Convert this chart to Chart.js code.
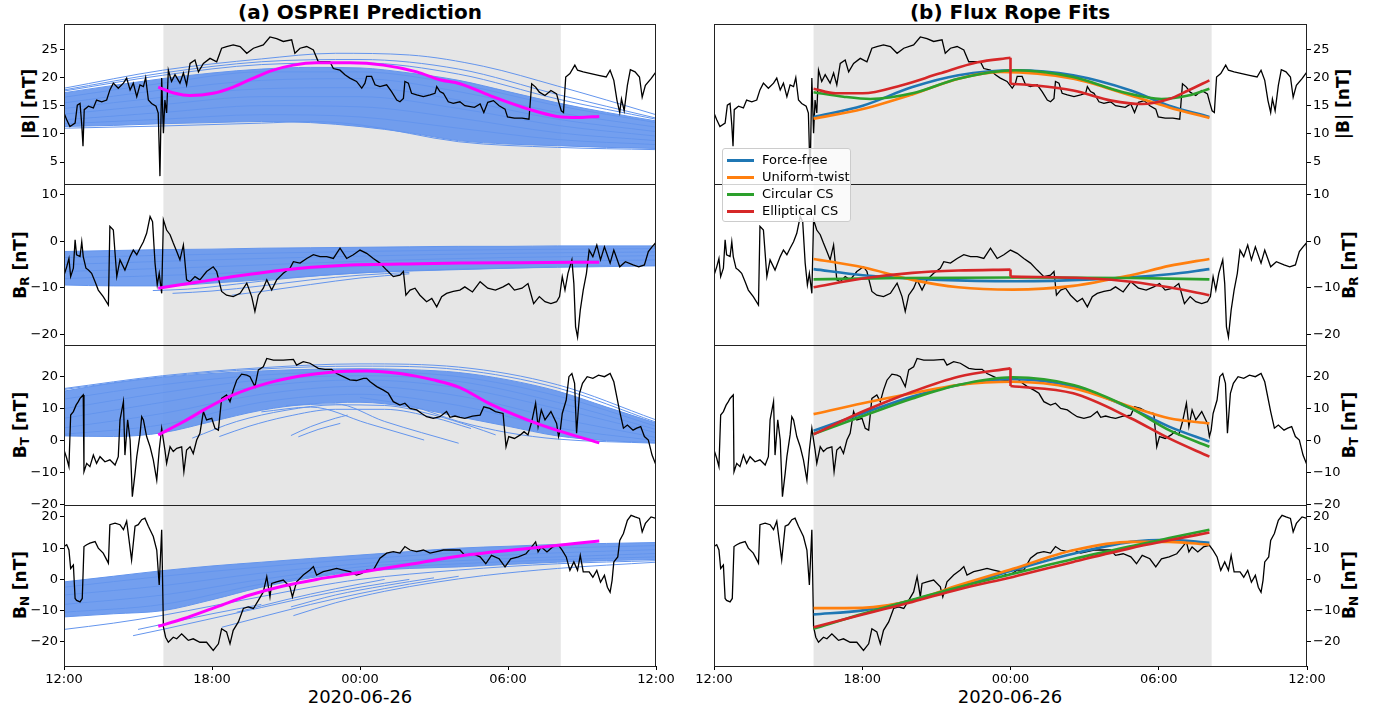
<!DOCTYPE html>
<html>
<head>
<meta charset="utf-8">
<script src="https://cdn.jsdelivr.net/npm/chart.js@4/dist/chart.umd.min.js"></script>
<style>
html,body{margin:0;padding:0;background:#fff;}
body{width:1385px;height:713px;position:relative;overflow:hidden;font-family:'DejaVu Sans',sans-serif;color:#000;}
canvas{position:absolute;}
.ttl{position:absolute;top:0px;font-weight:bold;font-size:20px;white-space:nowrap;transform:translateX(-50%);}
.xl{position:absolute;top:686px;font-size:18px;white-space:nowrap;transform:translateX(-50%);}
.yl{position:absolute;font-weight:bold;font-size:17px;white-space:nowrap;transform:translate(-50%,-50%) rotate(-90deg);}
.yl sub{font-size:12px;vertical-align:-3px;}
#legend{position:absolute;left:722px;top:148px;width:127px;height:72px;border:1px solid #ccc;border-radius:3px;background:rgba(255,255,255,0.8);z-index:10;}
.lrow{position:absolute;left:0;height:16px;font-size:13px;}
.lrow i{position:absolute;left:4px;top:7px;width:27px;height:3px;}
.lrow span{position:absolute;left:39px;top:0px;white-space:nowrap;}
</style>
</head>
<body>
<div class="ttl" style="left:360px;">(a) OSPREI Prediction</div>
<div class="ttl" style="left:1010px;">(b) Flux Rope Fits</div>
<div class="xl" style="left:360px;">2020-06-26</div>
<div class="xl" style="left:1010px;">2020-06-26</div>
<div class="yl" style="left:29px;top:104px;">|B| [nT]</div>
<div class="yl" style="left:21px;top:265px;">B<sub>R</sub> [nT]</div>
<div class="yl" style="left:21px;top:425px;">B<sub>T</sub> [nT]</div>
<div class="yl" style="left:21px;top:585px;">B<sub>N</sub> [nT]</div>
<div class="yl" style="left:1343px;top:104px;">|B| [nT]</div>
<div class="yl" style="left:1350px;top:265px;">B<sub>R</sub> [nT]</div>
<div class="yl" style="left:1350px;top:425px;">B<sub>T</sub> [nT]</div>
<div class="yl" style="left:1350px;top:585px;">B<sub>N</sub> [nT]</div>
<div id="legend"></div>
<script>
// ---------- axes ----------
const xTickValues = [0, 6, 12, 18, 24];
const xTickLabels = ['12:00', '18:00', '00:00', '06:00', '12:00'];
const shadeStart = 4.03, shadeEnd = 20.14;
const yRangeB = [1.1, 29.5], yRangeR = [-22.3, 12.3], yRangeT = [-20.1, 29.9], yRangeN = [-27.7, 23.8];
const yTicksB = [5, 10, 15, 20, 25], yTicksR = [-20, -10, 0, 10], yTicksT = [-20, -10, 0, 10, 20], yTicksN = [-20, -10, 0, 10, 20];

// ---------- observations (hours after 2020-06-25 12:00) ----------
const obsTimeB = [0,0.11,0.24,0.45,0.54,0.65,0.72,0.77,0.82,0.99,1.19,1.32,1.53,1.73,1.86,2.0,2.2,2.41,2.54,2.68,2.81,2.95,3.08,3.22,3.31,3.42,3.55,3.73,3.82,3.89,3.96,4.03,4.09,4.16,4.23,4.36,4.5,4.7,4.84,4.97,5.11,5.31,5.45,5.65,5.92,6.19,6.39,6.59,6.86,7.14,7.41,7.68,8.08,8.35,8.62,8.89,9.23,9.36,9.57,9.84,10.11,10.31,10.51,10.78,10.92,11.19,11.39,11.59,11.86,12.07,12.2,12.27,12.47,12.61,12.81,13.08,13.28,13.49,13.62,13.76,13.82,13.96,14.09,14.3,14.57,14.84,15.04,15.11,15.24,15.38,15.58,15.78,16.05,16.25,16.64,16.87,17.02,17.18,17.41,17.64,17.88,17.98,18.26,18.57,18.85,18.96,19.12,19.27,19.5,19.74,19.97,20.06,20.16,20.25,20.34,20.51,20.71,20.82,21.05,21.36,21.67,21.98,22.14,22.29,22.42,22.53,22.6,22.71,22.84,22.96,23.15,23.33,23.44,23.57,23.8,24.0];
const obsB = [13.7,12.5,11.3,11.9,15.1,15.4,11.6,7.8,14.3,14.9,14.6,16.0,15.7,16.0,17.8,19.0,18.1,19.0,19.9,17.8,19.0,16.6,18.7,18.4,20.0,16.0,15.4,14.9,13.7,2.5,19.9,10.1,16.0,13.7,21.3,19.3,20.5,19.0,20.8,18.7,22.5,23.1,21.0,22.5,23.4,22.8,25.2,25.5,25.8,25.5,24.3,25.2,25.8,27.2,26.9,26.4,26.7,24.3,25.2,25.5,24.9,22.8,22.8,22.8,21.6,21.3,20.5,19.9,19.3,18.1,19.0,20.2,20.2,18.7,18.4,18.7,17.5,16.0,15.7,16.3,19.3,19.0,17.2,16.9,16.6,16.9,17.2,18.4,17.5,17.2,15.7,15.4,15.7,15.0,14.7,15.3,13.8,15.6,15.9,15.0,14.4,13.0,12.8,12.8,12.6,18.9,18.3,17.4,16.8,17.7,17.1,15.6,14.1,13.8,20.1,20.7,22.2,21.3,21.0,20.7,20.4,20.1,21.3,19.5,15.9,13.8,16.2,14.1,18.6,21.4,21.0,20.1,16.5,18.6,19.8,21.0];

const obsTimeR = [0,0.11,0.2,0.27,0.38,0.45,0.51,0.65,0.72,0.78,0.89,0.99,1.12,1.26,1.39,1.59,1.8,1.86,2.0,2.14,2.27,2.47,2.68,2.81,2.95,3.08,3.22,3.35,3.49,3.59,3.69,3.78,3.86,3.96,4.03,4.16,4.3,4.43,4.57,4.7,4.84,4.97,5.11,5.31,5.51,5.78,6.05,6.19,6.39,6.59,6.86,7.14,7.41,7.61,7.74,7.88,8.08,8.22,8.42,8.62,8.89,9.16,9.3,9.57,9.84,10.11,10.38,10.65,10.92,11.19,11.46,11.73,12.0,12.27,12.54,12.81,13.08,13.35,13.62,13.76,13.86,14.03,14.23,14.43,14.7,14.91,15.11,15.31,15.51,15.78,16.05,16.25,16.56,16.87,17.18,17.49,17.8,18.03,18.26,18.57,18.81,19.04,19.27,19.5,19.74,19.97,20.09,20.2,20.31,20.43,20.59,20.67,20.74,20.82,20.93,21.05,21.18,21.29,21.44,21.6,21.75,21.91,22.14,22.29,22.53,22.76,23.07,23.3,23.53,23.69,23.84,23.97,24.0];
const obsR = [-7.3,-5.5,-3.7,-7.6,-5.8,0.3,-2.9,-3.3,-0.1,-3.3,-5.8,-6.2,-6.9,-8.7,-10.5,-11.9,-13.7,3.2,2.4,-7.6,-4.0,-6.2,-3.3,-1.9,-2.9,-1.5,-0.1,1.7,5.3,4.2,-4.7,-9.4,-6.9,-11.2,4.6,2.4,1.4,-0.4,-2.2,-4.0,-0.8,-8.3,-8.7,-7.6,-8.3,-6.5,-5.5,-6.5,-10.8,-11.6,-11.9,-11.2,-9.0,-11.9,-15.1,-11.6,-10.1,-8.3,-10.5,-8.3,-6.9,-5.8,-4.4,-4.7,-3.7,-2.9,-3.3,-3.3,-3.7,-1.5,-3.7,-2.9,-1.9,-2.6,-3.7,-4.7,-6.2,-7.6,-7.3,-6.5,-11.6,-10.5,-10.1,-11.6,-13.0,-12.3,-14.1,-11.9,-11.2,-10.8,-10.5,-9.8,-10.9,-8.7,-10.1,-10.5,-9.8,-9.1,-10.5,-10.1,-9.1,-13.4,-11.9,-13.0,-13.4,-13.0,-11.9,-7.6,-10.5,-6.9,-4.0,-9.1,-18.4,-20.6,-14.8,-10.5,-6.9,-1.9,-3.3,-0.8,-4.0,-1.2,-4.7,-1.9,-5.5,-4.4,-5.1,-5.5,-5.1,-2.2,-1.2,-0.4,-3.0];

const obsTimeT = [0,0.11,0.2,0.27,0.38,0.49,0.58,0.65,0.72,0.78,0.81,0.92,1.05,1.19,1.32,1.46,1.66,1.86,2.07,2.2,2.27,2.41,2.47,2.58,2.68,2.77,2.88,2.95,3.08,3.15,3.22,3.35,3.49,3.62,3.76,3.86,3.96,4.03,4.09,4.16,4.3,4.43,4.57,4.77,4.86,4.97,5.11,5.24,5.38,5.51,5.65,5.78,5.99,6.12,6.26,6.39,6.59,6.73,6.86,7.0,7.2,7.41,7.54,7.74,7.88,8.08,8.22,8.49,8.89,9.3,9.43,9.7,9.97,10.31,10.58,10.85,11.05,11.32,11.59,11.86,12.14,12.27,12.41,12.68,12.95,13.15,13.35,13.62,13.82,14.03,14.3,14.5,14.7,14.97,15.24,15.51,15.65,15.85,16.05,16.25,16.56,16.87,17.02,17.26,17.49,17.8,17.92,18.03,18.26,18.5,18.65,18.81,18.96,19.12,19.22,19.35,19.5,19.74,19.97,20.05,20.12,20.2,20.36,20.47,20.59,20.7,20.78,20.9,21.02,21.21,21.44,21.67,21.91,22.14,22.29,22.53,22.68,22.84,23.07,23.22,23.38,23.53,23.69,23.84,24.0];
const obsT = [-2.9,-5.5,-8.1,8.0,9.1,11.1,12.2,13.2,13.8,14.3,-9.7,-7.1,-8.1,-4.5,-7.1,-5.0,-6.6,-6.0,-7.6,-5.0,6.5,12.2,-4.5,6.5,0.2,-17.5,-10.2,-5.0,1.8,7.5,6.5,1.3,-1.9,-6.0,-12.3,-2.9,3.9,0.2,-2.9,-7.1,-1.9,-3.4,-2.4,-1.9,-9.7,-2.9,-1.9,-4.0,0.2,2.3,9.1,6.5,7.0,3.9,3.3,13.2,14.3,12.2,15.8,18.9,20.8,20.5,20.0,16.9,22.1,23.1,25.7,25.2,25.2,25.4,23.6,24.7,24.2,22.6,22.3,22.3,21.0,20.0,19.0,18.8,19.5,19.5,18.4,16.9,15.8,14.8,12.2,11.1,11.7,10.1,9.6,8.5,7.5,7.0,7.5,9.1,7.3,7.7,7.3,7.0,7.7,8.0,10.6,10.1,9.1,8.5,-1.9,1.3,0.7,1.8,2.8,1.8,5.9,11.7,4.4,9.6,6.5,9.1,5.4,1.3,3.3,8.5,12.7,20.0,21.0,17.9,2.3,14.8,17.9,20.0,19.5,20.5,20.0,21.0,18.4,9.1,3.9,4.9,3.3,3.9,4.4,1.3,0.2,-4.5,-7.6];

const obsTimeN = [0,0.11,0.2,0.27,0.38,0.45,0.51,0.65,0.74,0.81,0.92,1.05,1.26,1.39,1.59,1.8,1.86,2.07,2.27,2.41,2.54,2.74,2.88,3.01,3.15,3.28,3.42,3.62,3.76,3.86,3.96,4.03,4.12,4.23,4.43,4.57,4.77,4.91,5.04,5.24,5.51,5.78,6.05,6.26,6.39,6.59,6.73,6.86,7.07,7.27,7.47,7.68,7.88,8.08,8.22,8.35,8.42,8.62,8.89,9.16,9.26,9.43,9.7,9.97,10.11,10.24,10.51,10.78,11.05,11.32,11.59,11.86,12.07,12.27,12.54,12.81,13.08,13.35,13.62,13.82,14.03,14.3,14.57,14.84,15.11,15.38,15.65,16.05,16.25,16.56,16.87,17.1,17.33,17.64,17.88,18.11,18.42,18.73,18.96,19.12,19.22,19.35,19.58,19.81,20.05,20.2,20.36,20.51,20.67,20.82,20.93,21.05,21.29,21.44,21.6,21.75,21.91,22.03,22.14,22.22,22.29,22.45,22.53,22.68,22.84,22.99,23.15,23.33,23.44,23.57,23.8,24.0];
const obsN = [10.5,11.1,9.4,3.5,4.6,-6.1,-6.7,-7.2,-6.1,10.5,11.1,11.6,12.1,10.0,8.4,5.2,17.5,18.0,17.5,15.9,18.6,6.2,17.0,17.5,19.1,19.6,17.0,13.7,9.4,-1.8,15.9,-15.2,-18.5,-20.1,-18.5,-19.0,-17.4,-18.5,-19.5,-19.0,-20.1,-20.1,-22.7,-20.6,-15.8,-16.8,-20.6,-16.3,-13.6,-9.3,-8.8,-9.3,-6.7,-4.0,0.9,-5.6,-1.3,-0.8,-0.2,-2.4,-5.6,-0.8,1.4,3.0,4.1,1.4,2.5,3.0,3.5,3.0,2.5,1.4,1.9,3.0,3.0,6.8,8.4,8.9,8.4,10.5,9.4,8.9,9.4,8.4,8.9,9.4,9.4,9.4,7.7,8.2,7.2,5.0,7.7,6.6,4.0,6.6,7.2,8.2,10.4,12.0,8.8,10.4,8.8,10.4,10.9,9.3,7.2,2.9,5.6,2.9,7.7,2.4,2.4,0.7,2.9,-0.9,1.3,-2.5,-4.1,-0.3,5.6,7.2,12.5,14.7,18.9,20.5,20.0,19.5,15.2,17.9,20.0,19.5];

// ---------- OSPREI prediction (magenta) ----------
const magB = [[3.82,18.3],[4.5,17.2],[5.1,16.8],[6.05,17.2],[6.86,18.3],[7.68,19.9],[8.49,21.3],[9.3,22.2],[10.24,22.6],[11.59,22.6],[12.95,22.2],[14.3,21.0],[15.24,19.6],[16.05,18.9],[17.27,16.8],[18.9,14.3],[19.98,13.1],[20.9,12.9],[21.7,13.1]];
const magR = [[3.82,-10.1],[5.51,-8.7],[7.54,-7.1],[9.57,-5.8],[11.59,-5.1],[13.62,-4.9],[16.05,-4.7],[18.5,-4.6],[21.7,-4.5]];
const magT = [[3.82,1.8],[4.84,5.9],[5.78,10.1],[6.86,14.3],[8.22,17.9],[9.57,20.2],[10.92,21.5],[12.27,21.8],[13.62,21.0],[14.97,19.0],[16.05,16.6],[17.27,11.5],[19.3,5.0],[21.7,-0.7]];
const magN = [[3.82,-15.0],[4.84,-12.6],[6.19,-8.8],[7.54,-5.0],[8.89,-2.1],[10.24,0.0],[11.59,1.7],[12.95,3.5],[14.3,5.2],[16.05,7.5],[19.3,10.3],[21.7,12.3]];

// ---------- OSPREI ensemble (dense band edges + individual members) ----------
const ensTime = [0,2,4,6,8,10,12,14,16,18,20,22,24];
const ensBTop = [17.3,18.6,19.8,20.8,21.5,21.8,21.7,20.8,19.5,17.5,15.5,13.8,12.3];
const ensBBot = [11.3,11.5,11.8,12.0,12.2,12.0,11.3,10.2,8.8,8.2,7.9,7.6,7.4];
const ensRTop = [-2.2,-2.0,-1.8,-1.7,-1.5,-1.4,-1.3,-1.2,-1.1,-1.1,-1.0,-1.0,-1.0];
const ensRBot = [-9.4,-9.6,-9.6,-9.0,-8.3,-7.5,-6.8,-6.4,-6.1,-5.8,-5.5,-5.3,-5.2];
const ensTTop = [15.5,18.0,19.8,21.0,21.8,22.3,22.5,22.2,21.3,19.0,15.5,10.5,5.5];
const ensTBot = [1.5,1.3,2.5,6.0,9.5,11.5,12.0,10.5,7.5,4.5,1.5,0.0,-0.6];
const ensNTop = [-0.8,1.0,2.8,4.3,5.5,6.7,7.8,8.9,10.0,10.6,11.2,11.5,11.8];
const ensNBot = [-12.0,-11.0,-10.0,-6.5,-2.5,0.5,2.5,3.5,4.0,4.8,5.5,6.0,6.4];

const ensBLines = [
 [[0,18.1],[4,21.3],[8,23.3],[11,24.3],[14,24.0],[17,22.0],[20,18.5],[22,16.0],[24,13.4]],
 [[0,17.8],[4,20.8],[8,22.8],[12,23.2],[16,21.5],[20,17.0],[24,12.8]],
 [[0,17.6],[4,20.4],[8,22.3],[12,22.6],[16,20.6],[20,16.2],[24,12.6]],
 [[0,16.5],[4,19.0],[8,21.0],[12,21.0],[16,18.8],[20,15.0],[24,12.0]],
 [[0,15.5],[4,17.8],[8,19.5],[12,19.8],[16,17.5],[20,13.8],[24,11.2]],
 [[0,14.5],[4,16.5],[8,18.0],[12,18.2],[16,16.0],[20,12.6],[24,10.4]],
 [[0,13.5],[4,15.2],[8,16.6],[12,16.6],[16,14.5],[20,11.5],[24,9.6]],
 [[0,12.5],[4,13.8],[8,15.0],[12,14.8],[16,12.8],[20,10.2],[24,8.8]],
 [[0,11.8],[4,12.6],[8,13.4],[12,13.0],[16,11.0],[20,9.0],[24,8.1]],
 [[0,11.0],[4,11.4],[8,11.9],[10,12.2],[12,11.6],[16,8.6],[20,7.6],[24,7.2]]
];
const ensRLines = [
 [[3.6,-10.6],[5,-10.3],[7,-9.2],[9,-8.0],[12,-6.8],[16,-6.0],[20,-5.6],[24,-5.3]],
 [[4.4,-11.2],[6,-10.7],[8,-9.6],[10,-8.3],[12,-7.3],[14,-6.7]],
 [[6.8,-11.6],[8,-10.8],[10,-9.3],[12,-7.9],[14,-7.0]],
 [[0,-3.5],[6,-2.8],[12,-2.2],[18,-1.8],[24,-1.6]],
 [[0,-5.0],[6,-4.0],[12,-3.2],[18,-2.6],[24,-2.3]],
 [[0,-6.5],[6,-5.5],[12,-4.3],[18,-3.5],[24,-3.1]],
 [[0,-8.0],[6,-7.0],[12,-5.4],[18,-4.5],[24,-4.0]]
];
const ensTLines = [
 [[0,16.3],[4,20.3],[8,22.8],[12,24.0],[16,23.0],[20,17.5],[24,6.5]],
 [[0,16.0],[4,20.0],[8,22.4],[12,23.3],[16,22.2],[20,16.5],[24,5.8]],
 [[0,13.0],[4,17.5],[8,20.5],[12,21.5],[16,20.0],[20,14.0],[24,4.5]],
 [[0,10.0],[4,15.0],[8,19.0],[12,20.3],[16,18.5],[20,12.0],[24,3.5]],
 [[0,7.0],[4,12.0],[8,17.0],[12,19.0],[16,16.5],[20,10.0],[24,2.5]],
 [[0,4.0],[4,8.5],[8,14.5],[12,17.0],[16,14.0],[20,7.0],[24,1.0]],
 [[0,2.0],[4,5.0],[8,12.0],[12,14.5],[16,11.0],[20,4.0],[24,0.0]],
 [[5.2,0.8],[7,6.0],[9,9.5],[11,11.2],[13,11.0],[15,8.0],[16.5,4.5],[17.5,1.8]],
 [[6.3,1.3],[7.5,4.5],[9,7.5],[11,9.8],[13,9.8],[15,7.2],[16.5,3.8]],
 [[9.2,1.6],[10,4.4],[11,7.0],[11.5,8.0]],
 [[9.5,1.2],[10.3,3.5],[11.2,5.4]],
 [[8,9.0],[10,10.5],[12.3,5.4],[14.6,0.2]],
 [[9,11.0],[11,11.5],[13,6.0],[16,-0.8]],
 [[12,13.5],[14,11.0],[16,6.0],[18,2.5],[20,0.5],[24,-0.8]]
];
const ensNLines = [
 [[0,-16.0],[2,-14.0],[4,-11.5],[6,-8.5],[8,-5.5],[10,-2.5],[12,0.0],[16,3.0],[20,5.0],[24,6.0]],
 [[2.8,-18.0],[4,-16.0],[6,-12.5],[8,-9.0],[10,-5.5],[12,-2.5],[14,0.0]],
 [[3.0,-16.0],[4.5,-13.5],[6,-11.0],[8,-8.0]],
 [[6.4,-15.3],[8,-12.0],[10,-8.0],[12,-4.5],[14,-1.5],[16,1.0]],
 [[9.3,-11.6],[11,-7.5],[13,-3.8],[15,-1.0],[17,1.2],[20,3.5],[24,5.5]],
 [[9.2,-8.8],[11,-5.0],[13,-2.0],[15,0.5]],
 [[7.0,-10.5],[9,-6.5],[11,-3.0],[13,0.0]],
 [[0,-2.5],[4,1.0],[8,4.0],[12,6.5],[16,8.5],[20,10.0],[24,10.8]],
 [[0,-5.0],[4,-2.0],[8,2.0],[12,5.0],[16,7.0],[20,8.5],[24,9.5]],
 [[0,-8.0],[4,-5.0],[8,0.0],[12,4.0],[16,6.0],[20,7.2],[24,8.3]],
 [[0,-10.5],[4,-8.0],[8,-1.5],[12,3.0],[16,5.0],[20,6.3],[24,7.2]]
];

// ---------- flux rope fits ----------
const fitNames = ['Force-free', 'Uniform-twist', 'Circular CS', 'Elliptical CS'];
const fitColors = ['#1f77b4', '#ff7f0e', '#2ca02c', '#d62728'];
const ffB = [[4.03,13.0],[6.02,15.0],[8.03,18.3],[9.89,20.4],[12.22,21.3],[14.54,20.4],[16.87,17.7],[18.42,15.0],[20.05,13.0]];
const utB = [[4.03,12.7],[6.02,14.4],[8.03,17.0],[9.89,19.8],[11.6,21.0],[14.54,19.8],[16.87,16.8],[18.42,14.7],[20.05,12.8]];
const ccB = [[4.03,17.4],[5.24,16.6],[6.33,16.2],[8.03,17.2],[9.89,19.8],[12.22,21.3],[14.54,20.1],[16.56,17.4],[18.11,16.2],[19.19,16.8],[20.05,18.0]];
const ecB1 = [[4.03,18.0],[4.93,17.2],[6.02,17.2],[7.57,18.6],[9.12,20.7],[10.67,22.7],[12.0,23.5]];
const ecB2 = [[12.0,18.9],[12.99,18.6],[14.54,17.7],[16.09,15.9],[17.33,15.3],[18.42,16.2],[19.19,17.7],[20.05,19.5]];
const ffR = [[4.03,-6.0],[6.02,-7.3],[9.12,-8.3],[12.22,-8.6],[15.3,-8.2],[18.42,-7.1],[20.05,-6.0]];
const utR = [[4.03,-3.8],[6.02,-5.6],[8.03,-8.3],[9.89,-9.9],[12.1,-10.4],[14.54,-9.6],[16.87,-7.3],[18.42,-5.3],[20.05,-3.8]];
const ccR = [[4.03,-8.2],[7.57,-7.9],[12.22,-7.8],[16.87,-7.9],[20.05,-8.2]];
const ecR1 = [[4.03,-9.9],[6.02,-8.0],[8.03,-6.8],[9.89,-6.3],[12.0,-6.1]];
const ecR2 = [[12.0,-7.6],[15.3,-8.0],[16.87,-8.7],[18.42,-9.9],[20.05,-11.6]];
const ffT = [[4.03,3.1],[6.02,8.5],[8.03,13.8],[9.89,17.4],[12.1,19.2],[14.54,16.9],[16.87,10.1],[18.42,4.4],[20.05,-0.3]];
const utT = [[4.03,8.3],[6.02,11.7],[8.03,14.8],[9.89,17.4],[12.1,18.4],[14.54,16.4],[16.87,10.6],[18.42,7.0],[20.05,5.4]];
const ccT = [[4.03,2.1],[6.02,7.7],[8.03,13.2],[9.89,17.4],[12.1,19.8],[14.54,17.4],[16.87,10.1],[18.42,3.3],[20.05,-1.9]];
const ecT1 = [[4.03,2.0],[6.02,9.1],[8.03,15.3],[9.89,20.0],[12.0,22.6]];
const ecT2 = [[12.0,17.1],[14.54,14.8],[16.87,7.0],[18.42,0.7],[20.05,-5.0]];
const ffN = [[4.03,-11.2],[6.02,-9.9],[8.03,-6.7],[9.89,-2.5],[12.1,2.9],[14.54,8.2],[16.87,12.0],[18.42,12.7],[20.05,11.7]];
const utN = [[4.03,-9.2],[6.02,-9.1],[8.03,-6.7],[9.89,-1.9],[12.1,3.4],[14.54,9.3],[16.87,12.0],[18.42,12.0],[20.05,11.1]];
const ccN = [[4.03,-15.8],[6.02,-11.0],[8.03,-6.5],[9.89,-2.5],[12.1,1.8],[14.54,6.5],[16.87,10.6],[18.42,13.2],[20.05,15.9]];
const ecN1 = [[4.03,-15.3],[6.02,-11.2],[8.03,-7.2],[9.89,-3.2],[12.1,0.8],[14.54,5.6],[16.87,10.0],[18.42,12.5],[20.05,15.0]];
const ecN2 = [];

// ---------- assembly ----------
const ENS_BLUE = '#6495ed';
const pairs = a => a.map(p => ({x: p[0], y: p[1]}));
const zipTV = (t, v) => t.map((x, i) => ({x: x, y: v[i]}));

const panelTop = [24, 184, 345, 505], panelBot = [184, 345, 505, 666];
const yRanges = [yRangeB, yRangeR, yRangeT, yRangeN];
const yTickSets = [yTicksB, yTicksR, yTicksT, yTicksN];
const obsTimes = [obsTimeB, obsTimeR, obsTimeT, obsTimeN];
const obsVals = [obsB, obsR, obsT, obsN];
const mags = [magB, magR, magT, magN];
const ensTops = [ensBTop, ensRTop, ensTTop, ensNTop];
const ensBots = [ensBBot, ensRBot, ensTBot, ensNBot];
const ensLines = [ensBLines, ensRLines, ensTLines, ensNLines];
const fits = [[ffB, utB, ccB, ecB1, ecB2], [ffR, utR, ccR, ecR1, ecR2], [ffT, utT, ccT, ecT1, ecT2], [ffN, utN, ccN, ecN1, ecN2]];

Chart.defaults.font.family = "'DejaVu Sans', sans-serif";
Chart.defaults.font.size = 13;
Chart.defaults.color = '#000';

const shadePlugin = {
  id: 'shade',
  beforeDatasetsDraw(chart) {
    const {ctx, chartArea: a, scales: {x}} = chart;
    const x0 = x.getPixelForValue(shadeStart), x1 = x.getPixelForValue(shadeEnd);
    ctx.save();
    ctx.fillStyle = '#e6e6e6';
    ctx.fillRect(x0, a.top, x1 - x0, a.bottom - a.top);
    ctx.restore();
  }
};
const framePlugin = {
  id: 'frame',
  afterDatasetsDraw(chart) {
    const {ctx, chartArea: a} = chart;
    ctx.save();
    ctx.strokeStyle = '#222';
    ctx.lineWidth = 1;
    ctx.strokeRect(Math.round(a.left) + 0.5, Math.round(a.top) + 0.5, Math.round(a.right - a.left) - 1, Math.round(a.bottom - a.top));
    ctx.restore();
  }
};

function fmt(v) { return String(v).replace('-', '\u2212'); }

function makePanel(col, i, datasets) {
  const isBottom = i === 3;
  const cv = document.createElement('canvas');
  const left = col === 0 ? 0 : 690;
  const width = col === 0 ? 680 : 695;
  const top = panelTop[i] - 12;
  const height = isBottom ? (12 + panelBot[i] - panelTop[i] + 30 + 10) : (panelBot[i] - panelTop[i] + 24);
  cv.width = width; cv.height = height;
  cv.style.left = left + 'px'; cv.style.top = top + 'px';
  cv.style.width = width + 'px'; cv.style.height = height + 'px';
  document.body.appendChild(cv);
  new Chart(cv, {
    type: 'line',
    data: {datasets: datasets},
    options: {
      responsive: false, animation: false, events: [],
      layout: {autoPadding: false, padding: {left: col === 0 ? 0 : 24, right: col === 0 ? 24 : 0, top: 12, bottom: isBottom ? 10 : 12}},
      plugins: {legend: {display: false}, tooltip: {enabled: false}},
      elements: {point: {radius: 0}},
      scales: {
        x: {
          type: 'linear', min: 0, max: 24, display: isBottom,
          afterBuildTicks: s => { s.ticks = xTickValues.map(v => ({value: v})); },
          afterFit: s => { s.height = isBottom ? 30 : 0; },
          grid: {display: true, drawOnChartArea: false, drawTicks: true, tickLength: 4, color: '#000'},
          border: {display: false},
          ticks: {autoSkip: false, maxRotation: 0, padding: 2, font: {size: 13},
                  callback: v => xTickLabels[xTickValues.indexOf(v)]}
        },
        y: {
          type: 'linear', position: col === 0 ? 'left' : 'right',
          min: yRanges[i][0], max: yRanges[i][1],
          afterBuildTicks: s => { s.ticks = yTickSets[i].map(v => ({value: v})); },
          afterFit: s => { s.width = col === 0 ? 64 : 78; },
          grid: {display: true, drawOnChartArea: false, drawTicks: true, tickLength: 4, color: '#000'},
          border: {display: false},
          ticks: {padding: 2, font: {size: 13}, callback: v => fmt(v)}
        }
      }
    },
    plugins: [shadePlugin, framePlugin]
  });
}

// left column: OSPREI
for (let i = 0; i < 4; i++) {
  const ds = [];
  ds.push({data: pairs(mags[i]), borderColor: '#ff00ff', borderWidth: 3, cubicInterpolationMode: 'monotone', fill: false, order: 0});
  ds.push({data: zipTV(obsTimes[i], obsVals[i]), borderColor: '#000', borderWidth: 1.3, tension: 0, fill: false, order: 1});
  ensLines[i].forEach(l => ds.push({data: pairs(l), borderColor: ENS_BLUE, borderWidth: 1, cubicInterpolationMode: 'monotone', fill: false, order: 2}));
  ds.push({data: zipTV(ensTime, ensTops[i]), borderColor: ENS_BLUE, borderWidth: 1, cubicInterpolationMode: 'monotone', fill: '+1', backgroundColor: 'rgba(100,149,237,0.9)', order: 3});
  ds.push({data: zipTV(ensTime, ensBots[i]), borderColor: ENS_BLUE, borderWidth: 1, cubicInterpolationMode: 'monotone', fill: false, order: 3});
  makePanel(0, i, ds);
}

// right column: flux rope fits
for (let i = 0; i < 4; i++) {
  const f = fits[i];
  const ds = [];
  const ec1 = f[3], ec2 = f[4];
  ds.push({data: pairs(ec1), borderColor: fitColors[3], borderWidth: 2.6, cubicInterpolationMode: 'monotone', fill: false, order: 0});
  if (ec2.length) {
    ds.push({data: pairs(ec2), borderColor: fitColors[3], borderWidth: 2.6, cubicInterpolationMode: 'monotone', fill: false, order: 0});
    ds.push({data: pairs([ec1[ec1.length - 1], ec2[0]]), borderColor: fitColors[3], borderWidth: 2.6, tension: 0, fill: false, order: 0});
  }
  ds.push({data: pairs(f[2]), borderColor: fitColors[2], borderWidth: 2.6, cubicInterpolationMode: 'monotone', fill: false, order: 1});
  ds.push({data: pairs(f[1]), borderColor: fitColors[1], borderWidth: 2.6, cubicInterpolationMode: 'monotone', fill: false, order: 2});
  ds.push({data: pairs(f[0]), borderColor: fitColors[0], borderWidth: 2.6, cubicInterpolationMode: 'monotone', fill: false, order: 3});
  ds.push({data: zipTV(obsTimes[i], obsVals[i]), borderColor: '#000', borderWidth: 1.3, tension: 0, fill: false, order: 4});
  makePanel(1, i, ds);
}

// legend
const lg = document.getElementById('legend');
fitNames.forEach((n, k) => {
  const r = document.createElement('div');
  r.className = 'lrow';
  r.style.top = (3 + k * 17) + 'px';
  r.innerHTML = '<i style="background:' + fitColors[k] + '"></i><span>' + n + '</span>';
  lg.appendChild(r);
});
</script>
</body>
</html>
